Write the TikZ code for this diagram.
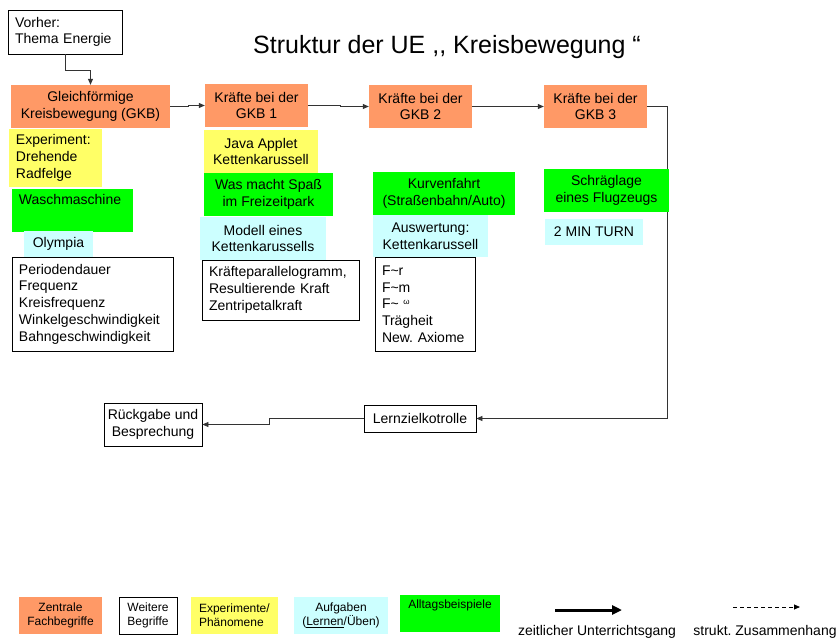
\documentclass[tikz,border=0pt]{standalone}
\usepackage{fontspec}
\setmainfont{Liberation Sans}
\usepackage{tikz}
\usetikzlibrary{arrows.meta,calc}
\definecolor{kOrange}{HTML}{FF9966}
\definecolor{kGelb}{HTML}{FFFF66}
\definecolor{kGruen}{HTML}{00FF00}
\definecolor{kCyan}{HTML}{CCFFFF}
\tikzset{
  box/.style={inner sep=0pt, align=center, anchor=center},
  zentral/.style={box, fill=kOrange},
  weiter/.style={box, draw=black, line width=0.8pt, fill=white},
  exper/.style={box, fill=kGelb},
  alltag/.style={box, fill=kGruen},
  aufgabe/.style={box, fill=kCyan},
  links/.style={align=left, inner xsep=7pt, execute at begin node={\hyphenpenalty=10000 \exhyphenpenalty=10000 }},
  pfeil/.style={draw=black!80, line width=0.8pt, -{Triangle[length=6pt,width=5pt]}},
  legende/.style={font=\fontsize{12}{14}\selectfont}
}
\begin{document}
\begin{tikzpicture}[x=1pt, y=-1pt, font=\fontsize{14}{16.7}\selectfont]
		\useasboundingbox (0,0) rectangle (838,644);
		% title
		\node (titel) at (447,47) {\fontsize{25}{29}\selectfont Struktur der UE ,{}, Kreisbewegung “};
		% start
		\node[weiter, links, text width=100pt, minimum height=44pt] (vorher) at (65,32) {Vorher:\\Thema Energie};
		% central terms
		\node[zentral, minimum width=159pt, minimum height=43pt] (gkb) at (90.5,106.5) {Gleichförmige\\Kreisbewegung (GKB)};
		\node[zentral, minimum width=103pt, minimum height=43pt] (gkb1) at (256.5,105.5) {Kräfte bei der\\GKB 1};
		\node[zentral, minimum width=103pt, minimum height=43pt] (gkb2) at (420.5,106.5) {Kräfte bei der\\GKB 2};
		\node[zentral, minimum width=103pt, minimum height=43pt] (gkb3) at (595.5,106.5) {Kräfte bei der\\GKB 3};
		% column 1
		\node[exper, links, text width=79pt, minimum height=58pt] (exp1) at (55.5,158) {Experiment:\\Drehende\\Radfelge};
		\node[alltag, links, text width=107pt, minimum height=43pt] (wasch) at (72.5,210.5) {Waschmaschine\\\strut};
		\node[aufgabe, minimum width=69pt, minimum height=26pt] (olymp) at (58.5,244) {Olympia};
		\node[weiter, links, text width=147pt, minimum height=94pt] (begr1) at (92.5,304) {Periodendauer\\Frequenz\\Kreisfrequenz\\Winkelgeschwindigkeit\\Bahngeschwindigkeit};
		% column 2
		\node[exper, minimum width=114pt, minimum height=43pt] (java) at (261,151.5) {Java Applet\\Kettenkarussell};
		\node[alltag, minimum width=129pt, minimum height=43pt] (spass) at (268.5,194.5) {Was macht Spaß\\im Freizeitpark};
		\node[aufgabe, minimum width=126pt, minimum height=43pt] (modell) at (263,238.5) {Modell eines\\Kettenkarussells};
		\node[weiter, links, text width=143pt, minimum height=60pt] (begr2) at (280.5,290) {Kräfteparallelogramm,\\Resultierende Kraft\\Zentripetalkraft};
		% column 3
		\node[alltag, minimum width=142pt, minimum height=43pt] (kurve) at (444,193.5) {Kurvenfahrt\\(Straßenbahn/Auto)};
		\node[aufgabe, minimum width=115pt, minimum height=42pt] (ausw) at (430.5,236) {Auswertung:\\Kettenkarussell};
		\node[weiter, links, text width=86pt, minimum height=94pt] (begr3) at (425,304) {F\textasciitilde r\\F\textasciitilde m\\F\textasciitilde\ \raisebox{0.6ex}{\fontsize{8}{8}\selectfont ω}\\Trägheit\\\mbox{New.\ Axiome}};
		% column 4
		\node[aufgabe, minimum width=98pt, minimum height=26pt] (turn) at (594,232) {2 MIN TURN};
		% end
		\node[weiter, minimum width=112pt, minimum height=27pt] (lzk) at (420,418.5) {Lernzielkotrolle};
		\node[weiter, minimum width=98pt, minimum height=43pt] (rueck) at (153,424.5) {Rückgabe und\\Besprechung};
		% course of lessons
		\coordinate (rechts) at (667,418.5);
		\draw[pfeil] (vorher.south) -- ++(0,16) -| (gkb.north);
		\draw[pfeil] (gkb.east) -- ++(18,0) |- (gkb1.west);
		\draw[pfeil] (gkb1.east) -- ++(32,0) |- (gkb2.west);
		\draw[pfeil] (gkb2.east) -- (gkb3.west);
		\draw[pfeil] (gkb3.east) -| (rechts) -- (lzk.east);
		\draw[pfeil] (lzk.west) -- ++(-94,0) |- (rueck.east);
		% lies over the line
		\node[alltag, minimum width=125pt, minimum height=43pt] (schraeg) at (606.5,190.5) {Schräglage\\eines Flugzeugs};
		% legend
		\node[zentral, legende, minimum width=83pt, minimum height=37pt] (lzent) at (60.5,615.5) {Zentrale\\Fachbegriffe};
		\node[weiter, legende, minimum width=58pt, minimum height=37pt] (lweit) at (148,615.5) {Weitere\\Begriffe};
		\node[exper, legende, align=left, inner xsep=8pt, text width=71pt, minimum height=37pt] (lexp) at (234.5,615.5) {Experimente/\\Phänomene};
		\node[aufgabe, legende, minimum width=94pt, minimum height=37pt] (lauf) at (341,615.5) {Aufgaben\\(\underline{Lernen}/Üben)};
		\node[alltag, legende, minimum width=100pt, minimum height=37pt] (lallt) at (450,613.5) {Alltagsbeispiele\\\strut};
		\coordinate (zeitA) at (555,610);
		\coordinate (zeitB) at (622,610);
		\coordinate (struktA) at (733,607);
		\coordinate (struktB) at (800,607);
		\draw[line width=3pt, -{Triangle[length=10pt,width=9pt]}] (zeitA) -- (zeitB);
		\draw[line width=0.8pt, dash pattern=on 4pt off 3pt, -{Triangle[length=6pt,width=5pt]}] (struktA) -- (struktB);
		\node (zeit) at (597,632) {zeitlicher Unterrichtsgang};
		\node (strukt) at (765,632) {strukt.\ Zusammenhang};
	\end{tikzpicture}
\end{document}
